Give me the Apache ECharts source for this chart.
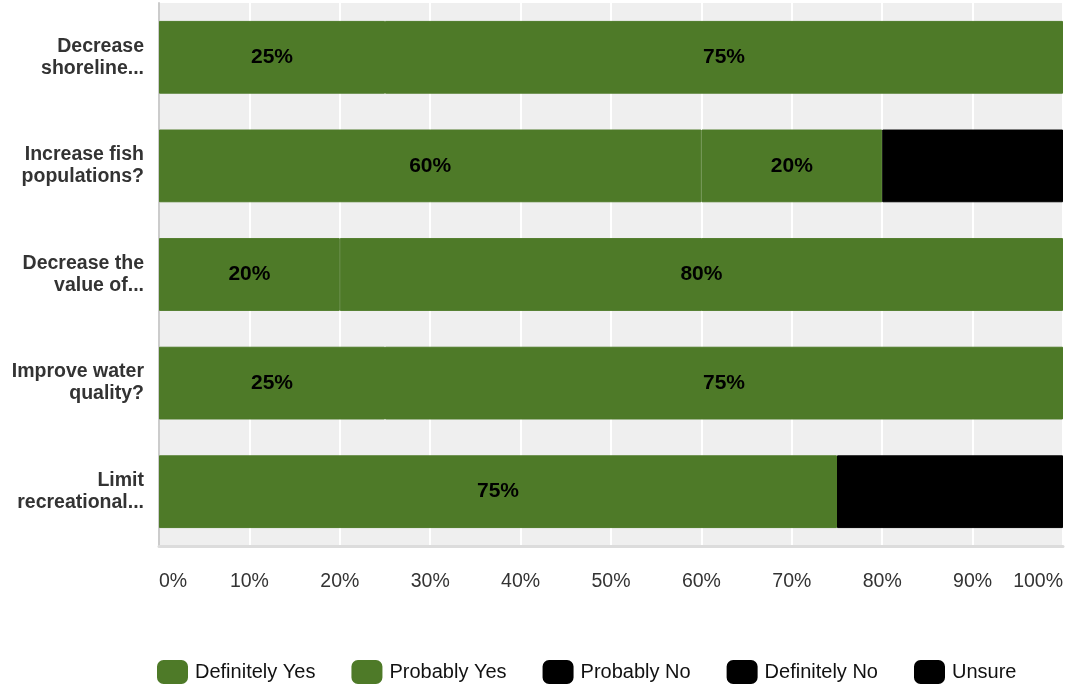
<!DOCTYPE html>
<html>
<head>
<meta charset="utf-8">
<script src="https://cdn.jsdelivr.net/npm/echarts@6/dist/echarts.min.js"></script>
<style>html,body{margin:0;padding:0;background:#fff;}#c{width:1069px;height:688px;}</style>
</head>
<body>
<div id="c"></div>
<script>
const categories = ["Decrease\nshoreline...", "Increase fish\npopulations?", "Decrease the\nvalue of...", "Improve water\nquality?", "Limit\nrecreational..."];
const seriesNames = ["Definitely Yes", "Probably Yes", "Probably No", "Definitely No", "Unsure"];
const definitelyYes = [25, 60, 20, 25, 75];
const probablyYes = [75, 20, 80, 75, 0];
const probablyNo = [0, 20, 0, 0, 25];
const definitelyNo = [0, 0, 0, 0, 0];
const unsure = [0, 0, 0, 0, 0];
const xTicks = [0, 10, 20, 30, 40, 50, 60, 70, 80, 90, 100];

const green = '#4e7a28';
const colors = [green, green, '#000000', '#000000', '#000000'];
const allData = [definitelyYes, probablyYes, probablyNo, definitelyNo, unsure];

const chart = echarts.init(document.getElementById('c'));
chart.setOption({
  animation: false,
  textStyle: { fontFamily: 'Liberation Sans, Arial, sans-serif' },
  grid: { left: 159, right: 6, top: 3, bottom: 142, show: true, backgroundColor: '#efefef', borderWidth: 0 },
  legend: {
    bottom: 4, left: 157, padding: 0,
    itemWidth: 29, itemHeight: 22, itemGap: 36,
    icon: 'roundRect',
    textStyle: { fontSize: 20, color: '#111', padding: [0, 0, 0, 3] },
    data: seriesNames
  },
  xAxis: {
    type: 'value', min: xTicks[0], max: xTicks[xTicks.length - 1], interval: 10,
    axisLine: { show: true, lineStyle: { color: '#dcdcdc', width: 3 } },
    axisTick: { show: false },
    splitLine: { show: true, lineStyle: { color: '#ffffff', width: 2 } },
    axisLabel: { formatter: '{value}%', fontSize: 19.5, color: '#333', margin: 26, alignMinLabel: 'left', alignMaxLabel: 'right' }
  },
  yAxis: {
    type: 'category', data: categories, inverse: true,
    axisLine: { show: true, lineStyle: { color: '#cccccc', width: 2 } },
    axisTick: { show: false },
    axisLabel: { fontSize: 19.5, fontWeight: 'bold', color: '#333', margin: 15, lineHeight: 22, align: 'right' }
  },
  series: seriesNames.map((n, i) => ({
    name: n, type: 'bar', stack: 'total', barWidth: '67%',
    itemStyle: { color: colors[i], borderColor: colors[i], borderWidth: 1 },
    label: {
      show: true, position: 'inside', color: '#000', fontSize: 21, fontWeight: 'bold',
      formatter: p => p.value + '%'
    },
    data: allData[i].map(v => v > 0 ? v : '-')
  }))
});
</script>
</body>
</html>
